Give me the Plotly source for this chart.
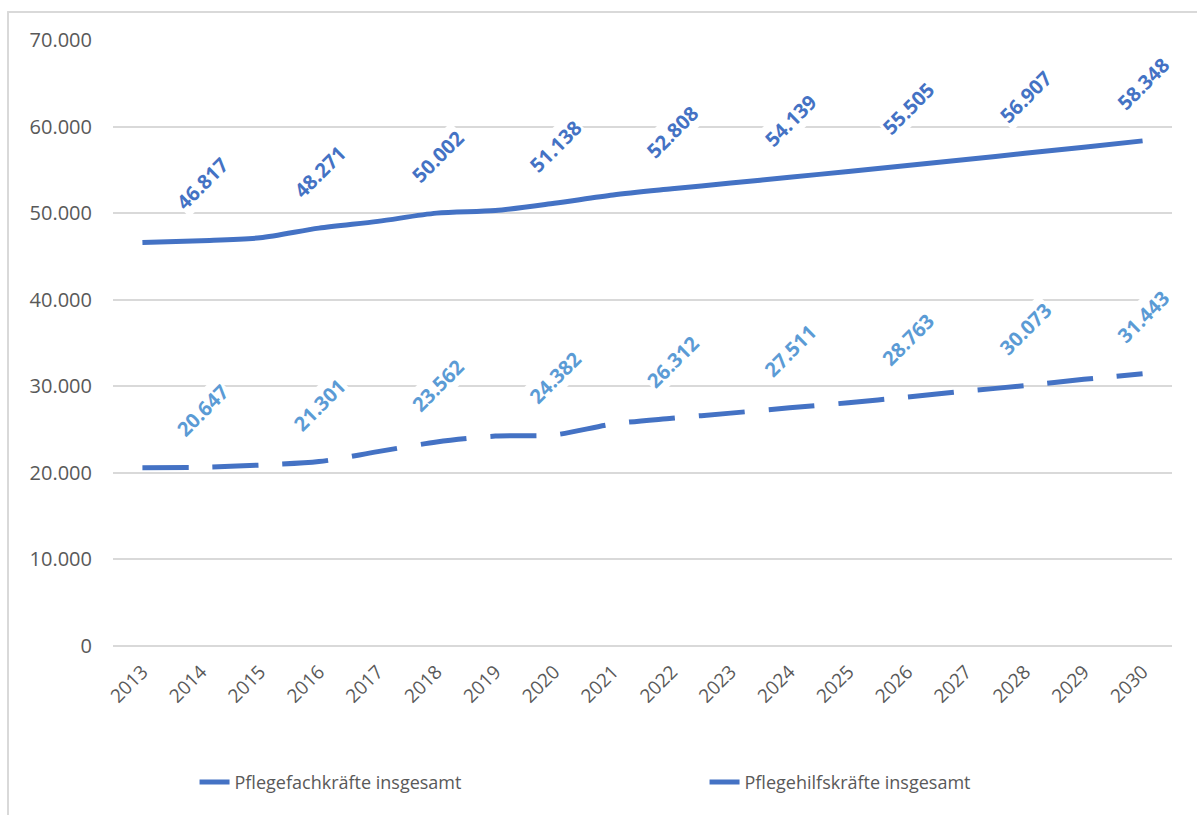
import plotly.graph_objects as go

years = [str(y) for y in range(2013, 2031)]
fachkraefte = [46600, 46817, 47150, 48271, 49050, 50002, 50300, 51138, 52100,
               52808, 53480, 54139, 54820, 55505, 56200, 56907, 57620, 58348]
hilfskraefte = [20600, 20647, 20900, 21301, 22450, 23562, 24250, 24382, 25650,
                26312, 26900, 27511, 28100, 28763, 29450, 30073, 30800, 31443]
series_names = ["Pflegefachkräfte insgesamt", "Pflegehilfskräfte insgesamt"]
label_idx = list(range(1, 18, 2))  # every other year carries a data label

LINE = "#4472C4"
LBL1 = "#4472C4"
LBL2 = "#5B9BD5"
FONT = "Open Sans"
GRAY = "#595959"

fig = go.Figure()
fig.add_trace(go.Scatter(
    x=years, y=fachkraefte, mode="lines", name=series_names[0],
    line=dict(color=LINE, width=5, shape="spline", smoothing=0.8),
))
fig.add_trace(go.Scatter(
    x=years, y=hilfskraefte, mode="lines", name=series_names[1],
    line=dict(color=LINE, width=5, shape="spline", smoothing=0.8, dash="46px,24px"),
))

def fmt(v):
    return f"{v:,}".replace(",", ".")

for vals, col in ((fachkraefte, LBL1), (hilfskraefte, LBL2)):
    for i in label_idx:
        fig.add_annotation(
            x=i, y=vals[i], xref="x", yref="y", text=fmt(vals[i]), showarrow=False,
            textangle=-45, yshift=57, xshift=1, bgcolor="white",
            font=dict(family=FONT, size=20, color=col, weight="bold"),
        )

fig.update_layout(
    width=1197, height=815,
    margin=dict(l=113, r=25, t=40, b=169, autoexpand=False),
    paper_bgcolor="white", plot_bgcolor="white",
    separators=",.",
    font=dict(family=FONT, color=GRAY),
    showlegend=True,
    legend=dict(
        orientation="h", x=0.077, xanchor="left", y=-0.225, yanchor="middle",
        font=dict(family=FONT, size=18, color=GRAY),
        entrywidth=465, entrywidthmode="pixels",
        bgcolor="rgba(0,0,0,0)",
    ),
    xaxis=dict(
        type="category", categoryorder="array", categoryarray=years,
        range=[-0.5, len(years) - 0.5], autorange=False,
        showgrid=False, showline=False, zeroline=False,
        tickangle=-45, tickfont=dict(family=FONT, size=19, color=GRAY),
        ticks="", ticklabelstandoff=10,
    ),
    yaxis=dict(
        range=[0, 70000], dtick=10000, tickformat=",.0f",
        showgrid=True, gridcolor="#D9D9D9", gridwidth=1.5,
        zeroline=True, zerolinecolor="#D9D9D9", zerolinewidth=1.5,
        showline=False, ticks="", ticklabelstandoff=20,
        tickfont=dict(family=FONT, size=20, color=GRAY),
    ),
    shapes=[
        dict(type="line", xref="paper", yref="paper", x0=-0.1, x1=1.1,
             y0=1 + 28/606, y1=1 + 28/606, line=dict(color="#D9D9D9", width=2)),
        dict(type="line", xref="paper", yref="paper", x0=-105/1059, x1=-105/1059,
             y0=-0.4, y1=1 + 28/606, line=dict(color="#D9D9D9", width=2)),
    ],
)

fig.write_html("out.html")
